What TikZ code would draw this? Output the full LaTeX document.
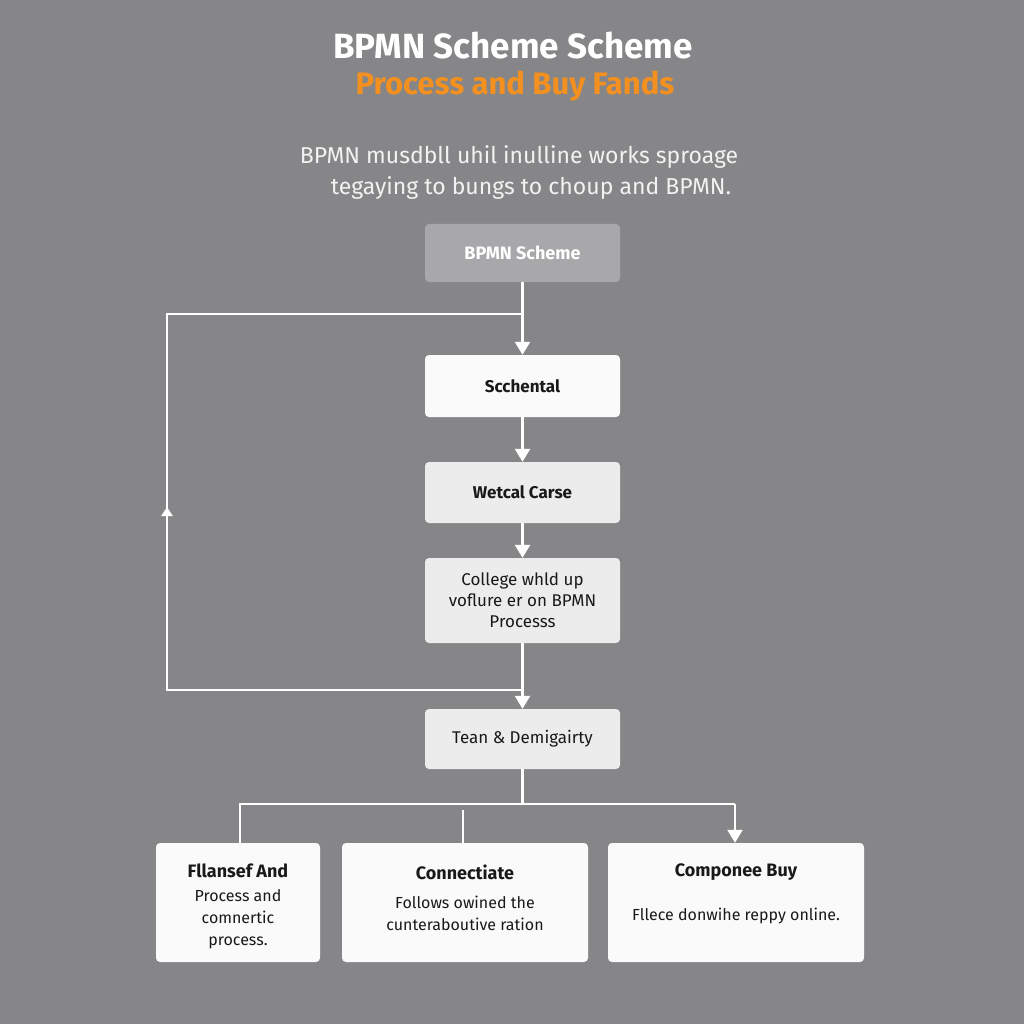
\documentclass[tikz,border=0pt]{standalone}
\usepackage{fontspec}
\setmainfont{Fira Sans}
\usetikzlibrary{arrows.meta}
\definecolor{bg}{RGB}{134,134,136}
\definecolor{topbox}{RGB}{168,168,170}
\definecolor{lightbox}{RGB}{236,236,236}
\definecolor{whitebox}{RGB}{250,250,250}
\definecolor{orangetxt}{RGB}{243,144,32}
\definecolor{darktxt}{RGB}{25,25,25}
\tikzset{
  box/.style={draw=none, rounded corners=4pt, minimum width=195pt, minimum height=60pt, align=center, text=darktxt, font=\fontsize{17}{21}\selectfont},
  conn/.style={draw=white, line width=2.4pt},
  arr/.style={conn, -{Triangle[width=15pt,length=13pt]}},
  bottombox/.style={fill=whitebox, rounded corners=4pt, minimum height=119pt},
  btitle/.style={text=darktxt, font=\fontsize{18}{22}\selectfont\bfseries},
  bbody/.style={text=darktxt, align=center, font=\fontsize{16}{22}\selectfont},
}
\begin{document}
\begin{tikzpicture}[x=1pt,y=-1pt]
\fill[bg] (0,0) rectangle (1024,1024);
\useasboundingbox (0,0) rectangle (1024,1024);

\node[text=white, font=\fontsize{35}{38}\selectfont\bfseries] (title) at (513,46) {BPMN Scheme Scheme};
\node[text=orangetxt, font=\fontsize{31}{34}\selectfont\bfseries] (subtitle) at (515,86) {Process and Buy Fands};
\node[text=white!95!black, align=center, font=\fontsize{23}{31}\selectfont] (desc) at (519,172) {BPMN musdbll uhil inulline works sproage\\\hspace*{24pt}tegaying to bungs to choup and BPMN.};

\node[box, fill=topbox, text=white, font=\fontsize{18}{22}\selectfont\bfseries, minimum height=58pt] (scheme) at (522.5,253) {BPMN Scheme};
\node[box, fill=whitebox, font=\fontsize{17}{21}\selectfont\bfseries, minimum height=62pt] (sch) at (522.5,386) {Scchental};
\node[box, fill=lightbox, font=\fontsize{17}{21}\selectfont\bfseries, minimum height=61pt] (wet) at (522.5,492.5) {Wetcal Carse};
\node[box, fill=lightbox, minimum height=85pt] (col) at (522.5,600.5) {College whld up\\voflure er on BPMN\\Processs};
\node[box, fill=lightbox, minimum height=60pt] (tean) at (522.5,739) {Tean \& Demigairty};

\node[bottombox, minimum width=164pt] (b1) at (238,902.5) {};
\node[bottombox, minimum width=246pt] (b2) at (465,902.5) {};
\node[bottombox, minimum width=256pt] (b3) at (736,902.5) {};
\node[btitle] (b1t) at (238,871) {Fllansef And};
\node[bbody] (b1d) at (238,919) {Process and\\comnertic\\process.};
\node[btitle] (b2t) at (465,872) {Connectiate};
\node[bbody] (b2d) at (465,913) {Follows owined the\\cunteraboutive ration};
\node[btitle] (b3t) at (736,872) {Componee Buy};
\node[bbody] (b3d) at (736,916) {Fllece donwihe reppy online.};

% main flow
\draw[arr] (scheme.south) -- (sch.north);
\draw[arr] (sch.south) -- (wet.north);
\draw[arr] (wet.south) -- (col.north);
\draw[arr] (col.south) -- (tean.north);

% loop back
\coordinate (j1) at (522.5,314);
\coordinate (j2) at (522.5,690);
\coordinate (c1) at (167,690);
\coordinate (c2) at (167,314);
\coordinate (cm) at (167,507);
\draw[conn] (j2) -- (c1) -- (c2) -- (j1);
\draw[conn, -{Triangle[width=11pt,length=9pt]}] (c1) -- (cm);

% fan out
\coordinate (f0) at (522.5,804);
\coordinate (fl) at (240,804);
\coordinate (fr) at (735,804);
\coordinate (fm) at (463,810);
\draw[conn] (tean.south) -- (f0);
\draw[conn] (fl |- b1.north) -- (fl) -- (fr);
\draw[arr] (fr) -- (fr |- b3.north);
\draw[conn] (fm) -- (fm |- b2.north);
\end{tikzpicture}
\end{document}
